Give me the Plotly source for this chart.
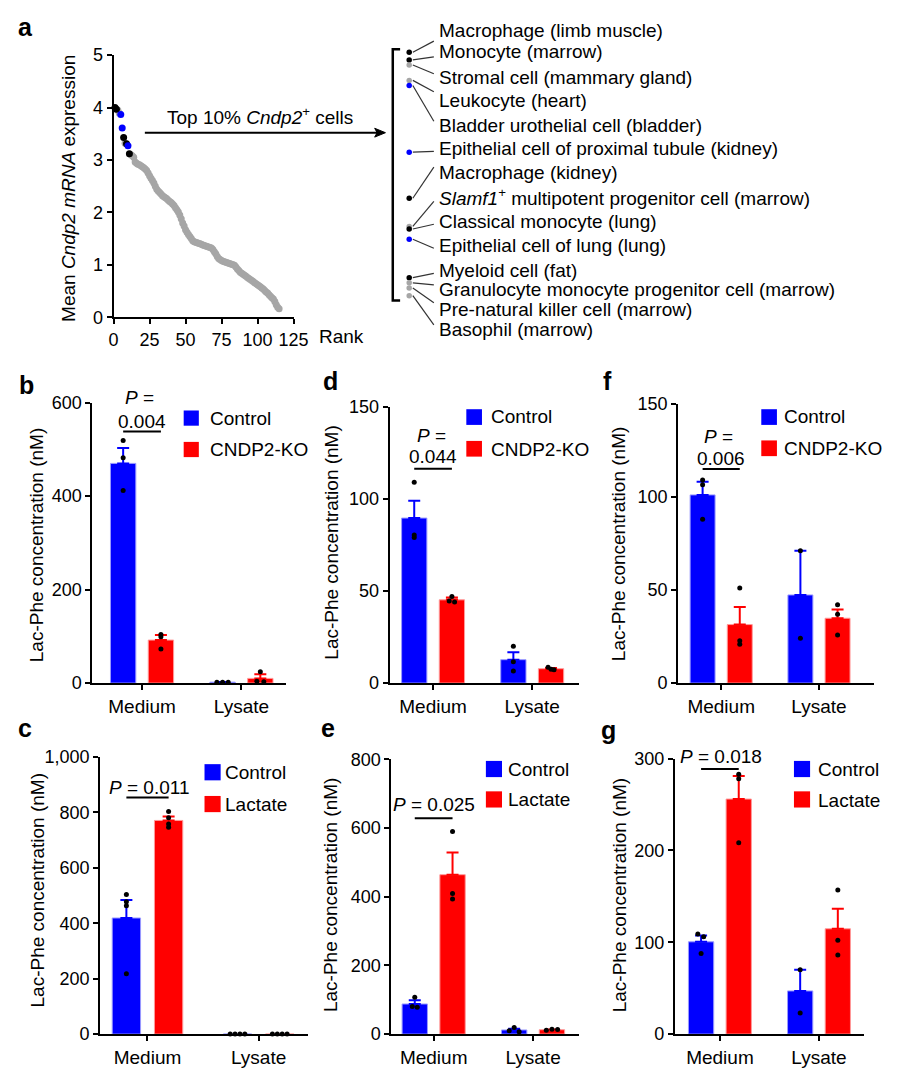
import plotly.graph_objects as go

W, H = 909, 1086
FONT = "Liberation Sans, Arial, Helvetica, sans-serif"
TXT = 19
TICK = 18


def fx(px):
    return px / W


def fy(py):
    return 1 - py / H


# ---------------- Panel a data ----------------
top_ranks = list(range(1, 15))
top_vals = [4.00, 3.97, 3.95, 3.89, 3.87, 3.61, 3.43, 3.32, 3.31, 3.27, 3.12, 3.10, 3.08, 3.05]
top_groups = ['black', 'black', 'gray', 'gray', 'blue', 'blue', 'black', 'gray', 'black', 'blue',
              'black', 'gray', 'gray', 'gray']
rest_vals = [2.96, 2.94, 2.92, 2.91, 2.89, 2.87, 2.85, 2.83, 2.80, 2.75,
             2.70, 2.65, 2.61, 2.56, 2.50, 2.44, 2.41, 2.38, 2.35, 2.32,
             2.30, 2.28, 2.26, 2.23, 2.21, 2.19, 2.16, 2.13, 2.09, 2.05,
             2.01, 1.95, 1.88, 1.80, 1.74, 1.67, 1.62, 1.58, 1.54, 1.50,
             1.46, 1.44, 1.43, 1.42, 1.41, 1.40, 1.39, 1.38, 1.37, 1.36,
             1.35, 1.34, 1.33, 1.32, 1.29, 1.25, 1.21, 1.16, 1.12, 1.10,
             1.08, 1.07, 1.06, 1.05, 1.04, 1.03, 1.02, 1.01, 1.00, 0.99,
             0.96, 0.92, 0.89, 0.86, 0.84, 0.82, 0.80, 0.78, 0.76, 0.74,
             0.72, 0.70, 0.68, 0.66, 0.64, 0.62, 0.60, 0.58, 0.56, 0.54,
             0.51, 0.48, 0.46, 0.43, 0.40, 0.37, 0.35, 0.30, 0.24, 0.19,
             0.16]
rest_ranks = list(range(15, 15 + len(rest_vals)))
cell_labels = [
    "Macrophage (limb muscle)",
    "Monocyte (marrow)",
    "Stromal cell (mammary gland)",
    "Leukocyte (heart)",
    "Bladder urothelial cell (bladder)",
    "Epithelial cell of proximal tubule (kidney)",
    "Macrophage (kidney)",
    "<i>Slamf1</i><sup>+</sup> multipotent progenitor cell (marrow)",
    "Classical monocyte (lung)",
    "Epithelial cell of lung (lung)",
    "Myeloid cell (fat)",
    "Granulocyte monocyte progenitor cell (marrow)",
    "Pre-natural killer cell (marrow)",
    "Basophil (marrow)",
]
a_xticks = [0, 25, 50, 75, 100, 125]
a_yticks = [0, 1, 2, 3, 4, 5]

# ---------------- Bar panel data ----------------
categories = ["Medium", "Lysate"]

b_ctrl_mean = [470, 2]
b_ctrl_sem = [33, 0.5]
b_ctrl_pts = [[519, 482, 412], [2, 2, 2]]
b_ko_mean = [92, 10]
b_ko_sem = [11, 9]
b_ko_pts = [[104, 99, 73], [24, 4, 3]]

d_ctrl_mean = [89.6, 12.7]
d_ctrl_sem = [9.4, 4.0]
d_ctrl_pts = [[109, 80.4, 79], [20, 11.6, 6.6]]
d_ko_mean = [45.2, 7.8]
d_ko_sem = [1.2, 0.4]
d_ko_pts = [[47, 44.5, 44], [8.6, 7.5, 7.3]]

f_ctrl_mean = [101, 47.3]
f_ctrl_sem = [7, 23.7]
f_ctrl_pts = [[109, 106.5, 88], [71, 24]]
f_ko_mean = [31.4, 34.8]
f_ko_sem = [9.5, 4.7]
f_ko_pts = [[51, 22.7, 20.9], [42, 36.9, 25.8]]

c_ctrl_mean = [419, 0]
c_ctrl_sem = [65, 0]
c_ctrl_pts = [[504, 478, 463, 218], [0, 0, 0, 0]]
c_lac_mean = [771, 0]
c_lac_sem = [14, 0]
c_lac_pts = [[803, 781, 758, 746], [0, 0, 0, 0]]

e_ctrl_mean = [87.6, 12]
e_ctrl_sem = [11, 3.5]
e_ctrl_pts = [[107, 80, 78], [19, 10, 7]]
e_lac_mean = [464, 12.7]
e_lac_sem = [64.7, 1]
e_lac_pts = [[590, 409.5, 393], [11, 14, 13]]

g_ctrl_mean = [100.5, 47]
g_ctrl_sem = [7, 23]
g_ctrl_pts = [[109, 106, 87.7], [70, 23]]
g_lac_mean = [256, 114.7]
g_lac_sem = [25, 21.7]
g_lac_pts = [[283, 278, 208.5], [156.8, 102.2, 86.2]]

BLUE = "#0000ff"
RED = "#ff0000"
BLUE_EDGE = "#9a9aff"
RED_EDGE = "#ff9a9a"
GRAY = "#a6a6a6"
group_colors = {"black": "#000000", "gray": GRAY, "blue": BLUE}

fig = go.Figure()
shapes = []
annotations = []


def ann(text, x, y, size=TXT, xanchor="center", yanchor="middle", angle=0, bold=False):
    if bold:
        text = "<b>" + text + "</b>"
    annotations.append(dict(text=text, x=fx(x), y=fy(y), xref="paper", yref="paper",
                            showarrow=False, xanchor=xanchor, yanchor=yanchor, textangle=angle,
                            font=dict(family=FONT, size=size, color="black")))


def axis_style(**kw):
    d = dict(showline=True, linewidth=2, linecolor="black", ticks="outside", ticklen=5,
             tickwidth=2, tickcolor="black", showgrid=False, zeroline=False,
             tickfont=dict(family=FONT, size=TICK, color="black"), fixedrange=True)
    d.update(kw)
    return d


# ---------------- Panel a ----------------
fig.add_trace(go.Scatter(x=rest_ranks, y=rest_vals, mode="markers", cliponaxis=False,
                         marker=dict(color=GRAY, size=7), xaxis="x", yaxis="y"))
for grp in ["gray", "black", "blue"]:
    xs = [r for r, g in zip(top_ranks, top_groups) if g == grp]
    ys = [v for v, g in zip(top_vals, top_groups) if g == grp]
    fig.add_trace(go.Scatter(x=xs, y=ys, mode="markers", cliponaxis=False,
                             marker=dict(color=group_colors[grp], size=7), xaxis="x", yaxis="y"))

fig.layout["xaxis"] = axis_style(domain=[fx(111), fx(295)], range=[0, 125], tickvals=a_xticks,
                                 anchor="y")
fig.layout["yaxis"] = axis_style(domain=[fy(313), fy(46)], range=[0, 5], tickvals=a_yticks,
                                 anchor="x")
ann("Mean <i>Cndp2 mRNA</i> expression", 65, 181.7, angle=-90)
ann("Rank", 344, 333)
ann("Top 10% <i>Cndp2</i><sup>+</sup> cells", 261, 108)
ann("a", 20.5, 17, size=25, bold=True)
# arrow (line + head)
shapes.append(dict(type="line", xref="paper", yref="paper", x0=fx(143), x1=fx(381),
                   y0=fy(125), y1=fy(125), line=dict(color="black", width=2)))
shapes.append(dict(type="path", xref="paper", yref="paper",
                   path=f"M {fx(389)} {fy(125)} L {fx(378)} {fy(120.5)} L {fx(380.5)} {fy(125)} L {fx(378)} {fy(129.5)} Z",
                   fillcolor="black", line=dict(color="black", width=1)))

# mini list axis (dots on a value scale)
MINI_TOP, MINI_BOT = 40, 295
mini_range = [3.0347, 4.0115]
fig.add_trace(go.Scatter(x=[0] * len(top_vals), y=top_vals, mode="markers", cliponaxis=False,
                         marker=dict(color=[group_colors[g] for g in top_groups], size=5.5),
                         xaxis="x2", yaxis="y2"))
fig.layout["xaxis2"] = dict(domain=[fx(408.3), fx(418.3)], range=[-1, 1], visible=False,
                            anchor="y2", fixedrange=True)
fig.layout["yaxis2"] = dict(domain=[fy(MINI_BOT), fy(MINI_TOP)], range=mini_range, visible=False,
                            anchor="x2", fixedrange=True)


def mini_py(v):
    return MINI_TOP + (mini_range[1] - v) / (mini_range[1] - mini_range[0]) * (MINI_BOT - MINI_TOP)


# bracket
shapes.append(dict(type="path", xref="paper", yref="paper",
                   path=f"M {fx(404)} {fy(40)} L {fx(396.5)} {fy(40)} L {fx(396.5)} {fy(296)} L {fx(404)} {fy(296)}",
                   line=dict(color="black", width=2.5)))
label_y = [20.7, 42.7, 68.3, 91.7, 117.3, 140.7, 165.7, 190.7, 215, 240, 265, 285, 305, 326]
conn_end_y = [31.7, 47.7, 65, 83.3, 113.3, 144, 160, 195, 218.3, 242.7, 268.3, 280, 298.3, 320.7]
for lab, ly, ey, v in zip(cell_labels, label_y, conn_end_y, top_vals):
    ann(lab, 441.7, ly, xanchor="left")
    shapes.append(dict(type="line", xref="paper", yref="paper",
                       x0=fx(417), y0=fy(mini_py(v)), x1=fx(438.5), y1=fy(ey),
                       line=dict(color="#333333", width=1.2)))

# ---------------- Bar panels ----------------
BAR_W = 0.255
OFF = 0.19


def add_bar_panel(n, letter, letter_pos, xdom, ydom, xr, yr, dtick, tickfmt,
                  groups, dxs, ptext, ptext_pos, pline_y, legend, ytitle_pos):
    xa, ya = f"x{n}", f"y{n}"
    offs = [-OFF, OFF]
    for (name, mean, sem, pts, color, edge), off, dx in zip(groups, offs, dxs):
        for j in range(len(categories)):
            fig.add_trace(go.Bar(
                x=[j + off], y=[mean[j]], width=[BAR_W], xaxis=xa, yaxis=ya,
                marker=dict(color=color, line=dict(color=edge, width=1)),
                error_y=dict(type="data", symmetric=False, array=[sem[j]], arrayminus=[0],
                             color=color, thickness=2, width=6, visible=sem[j] > 0)))
        xs, ys = [], []
        for j in range(len(categories)):
            for k, v in enumerate(pts[j]):
                xs.append(j + off + dx[j][k])
                ys.append(v)
        fig.add_trace(go.Scatter(x=xs, y=ys, mode="markers", cliponaxis=False,
                                 marker=dict(color="black", size=5), xaxis=xa, yaxis=ya))
    fig.layout[f"xaxis{n}"] = axis_style(domain=[fx(xdom[0]), fx(xdom[1])], range=xr,
                                         tickvals=list(range(len(categories))),
                                         ticktext=categories, anchor=ya,
                                         tickfont=dict(family=FONT, size=TXT, color="black"))
    fig.layout[f"yaxis{n}"] = axis_style(domain=[fy(ydom[1]), fy(ydom[0])], range=yr,
                                         dtick=dtick, tick0=0, tickformat=tickfmt, anchor=xa)
    # p-value
    for t, (px, py) in zip(ptext, ptext_pos):
        ann(t, px, py)
    shapes.append(dict(type="line", xref=xa, yref="paper", x0=-OFF, x1=OFF,
                       y0=fy(pline_y), y1=fy(pline_y), line=dict(color="black", width=2)))
    # legend
    (sx, sy1, sy2, ssz, tx, ty1, ty2) = legend
    for (name, *_rest), syy, tyy in zip(groups, [sy1, sy2], [ty1, ty2]):
        color = _rest[3]
        shapes.append(dict(type="rect", xref="paper", yref="paper",
                           x0=fx(sx), x1=fx(sx + ssz), y0=fy(syy + ssz), y1=fy(syy),
                           fillcolor=color, line=dict(width=0)))
        ann(name, tx, tyy, xanchor="left")
    ann("Lac-Phe concentration (nM)", ytitle_pos[0], ytitle_pos[1], angle=-90)
    ann(letter, letter_pos[0], letter_pos[1], size=25, bold=True)


add_bar_panel(
    3, "b", (21.5, 382), (89.3, 287), (400, 685.7), [-0.50, 1.445], [0, 600], 200, None,
    [("Control", b_ctrl_mean, b_ctrl_sem, b_ctrl_pts, BLUE, BLUE_EDGE),
     ("CNDP2-KO", b_ko_mean, b_ko_sem, b_ko_pts, RED, RED_EDGE)],
    [[[0, 0, 0], [-0.057, 0, 0.057]], [[0, 0, 0], [0, -0.035, 0.035]]],
    ["<i>P</i> =", "0.004"], [(138, 395), (140.5, 419)], 429.3,
    (182.7, 408, 440, 15.5, 207.3, 415.7, 447.5), (33, 545))

add_bar_panel(
    4, "d", (333, 378), (393.3, 586.7), (404.3, 685.7), [-0.438, 1.47], [0, 150], 50, None,
    [("Control", d_ctrl_mean, d_ctrl_sem, d_ctrl_pts, BLUE, BLUE_EDGE),
     ("CNDP2-KO", d_ko_mean, d_ko_sem, d_ko_pts, RED, RED_EDGE)],
    [[[0, 0, 0], [0, 0, 0]], [[0, -0.027, 0.027], [-0.03, 0, 0.03]]],
    ["<i>P</i> =", "0.044"], [(436, 433.3), (438, 455)], 467.3,
    (471.7, 406.7, 439, 16, 495, 414.3, 447.3), (333, 543))

add_bar_panel(
    5, "f", (616.5, 378), (688.3, 888.3), (401, 685.7), [-0.44, 1.56], [0, 150], 50, None,
    [("Control", f_ctrl_mean, f_ctrl_sem, f_ctrl_pts, BLUE, BLUE_EDGE),
     ("CNDP2-KO", f_ko_mean, f_ko_sem, f_ko_pts, RED, RED_EDGE)],
    [[[0, 0, 0], [0, 0]], [[0, 0, 0], [0, 0, 0]]],
    ["<i>P</i> =", "0.006"], [(730, 434), (732, 456.7)], 467.7,
    (773.3, 406.7, 438.5, 16, 794, 414.5, 447), (628, 544))

add_bar_panel(
    6, "c", (20.5, 731), (97.3, 310), (761, 1043.3), [-0.426, 1.446], [0, 1000], 200, ",",
    [("Control", c_ctrl_mean, c_ctrl_sem, c_ctrl_pts, BLUE, BLUE_EDGE),
     ("Lactate", c_lac_mean, c_lac_sem, c_lac_pts, RED, RED_EDGE)],
    [[[0, 0, 0, 0], [-0.066, -0.022, 0.022, 0.066]], [[0, 0, 0, 0], [-0.066, -0.022, 0.022, 0.066]]],
    ["<i>P</i> = 0.011"], [(147, 791.7)], 802.3,
    (204, 768.3, 800.7, 16.5, 223.3, 776.7, 809), (33, 896.7))

add_bar_panel(
    7, "e", (330.5, 731), (395, 586.7), (763.3, 1043.3), [-0.426, 1.46], [0, 800], 200, None,
    [("Control", e_ctrl_mean, e_ctrl_sem, e_ctrl_pts, BLUE, BLUE_EDGE),
     ("Lactate", e_lac_mean, e_lac_sem, e_lac_pts, RED, RED_EDGE)],
    [[[0, -0.025, 0.025], [0, -0.05, 0.05]], [[0, 0, 0], [-0.057, 0, 0.057]]],
    ["<i>P</i> = 0.025"], [(438.3, 809.3)], 823.3,
    (491.7, 765, 796, 16.5, 512.3, 773.3, 804.3), (333, 902))

add_bar_panel(
    8, "g", (617.5, 734), (685, 878.3), (762.7, 1043.3), [-0.454, 1.454], [0, 300], 100, None,
    [("Control", g_ctrl_mean, g_ctrl_sem, g_ctrl_pts, BLUE, BLUE_EDGE),
     ("Lactate", g_lac_mean, g_lac_sem, g_lac_pts, RED, RED_EDGE)],
    [[[-0.033, 0.026, 0], [0, 0]], [[0, 0, 0], [0, 0, 0]]],
    ["<i>P</i> = 0.018"], [(732.5, 760)], 773.3,
    (806.7, 765, 796, 16.5, 829.3, 773.3, 805), (628, 901.7))

fig.update_layout(
    width=W, height=H, margin=dict(l=0, r=0, t=0, b=0),
    paper_bgcolor="white", plot_bgcolor="white", showlegend=False,
    barmode="overlay", shapes=shapes, annotations=annotations,
    font=dict(family=FONT, color="black"),
)

fig.write_html("out.html")
